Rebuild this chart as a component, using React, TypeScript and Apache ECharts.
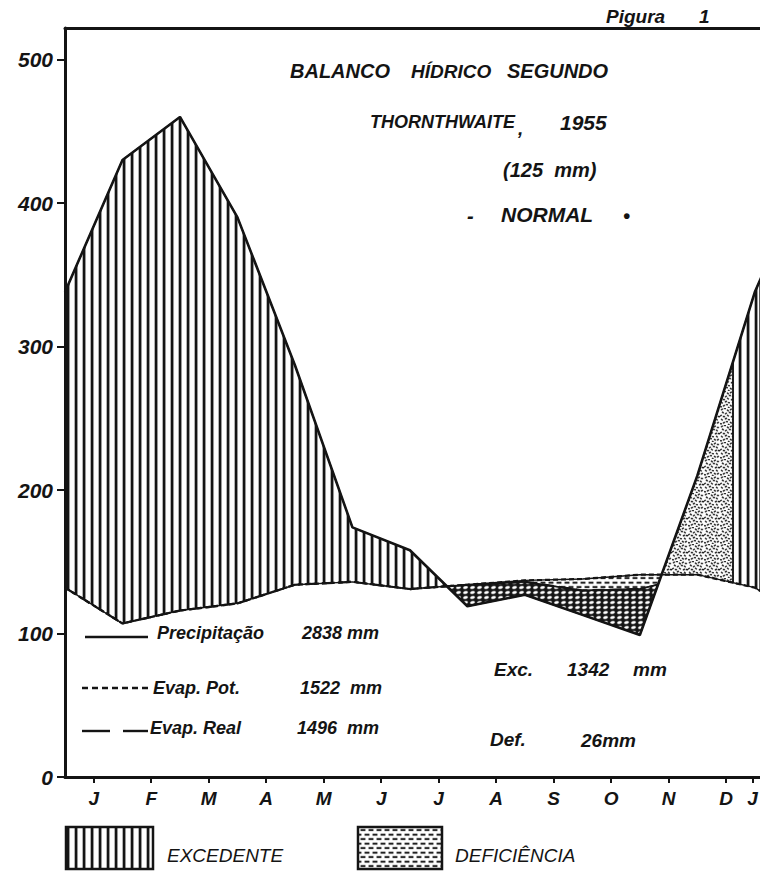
import React, { useEffect, useRef } from "react";
import * as echarts from "echarts";

// ---------------- data ----------------
const X_LABELS = ["J", "F", "M", "A", "M", "J", "J", "A", "S", "O", "N", "D", "J"];
const Y_TICKS = [0, 100, 200, 300, 400, 500];
// monthly values, Jan..Dec (mm)
const PRECIPITACAO = [430, 460, 390, 287, 174, 158, 119, 127, 113, 99, 210, 338];
const EVAP_POT = [107, 116, 121, 134, 136, 131, 134, 137, 138, 141, 141, 132];
const EVAP_REAL = [107, 116, 121, 134, 136, 131, 134, 136, 130, 131, 141, 132];
// month position (1 = mid Jan ... 12 = mid Dec) where soil recharge ends
const RECHARGE_END = 11.62;
// last month (Oct = 10) in which real evaporation falls below the potential one
const LAST_DRY_MONTH = 10;
const Y_MAX = 522;
const X_MAX = 12.09;

const INK = "#141414";
const FONT = '"Liberation Sans", Arial, sans-serif';

// positions: 0 = previous Dec, 1..12 = Jan..Dec, 13 = next Jan
const cyc = (m: number[]) => [m[11], ...m, m[0]];
const P = cyc(PRECIPITACAO);
const EP = cyc(EVAP_POT);
const ER = cyc(EVAP_REAL);
const XS = P.map((_, i) => i);

function at(vals: number[], x: number) {
  const i = Math.min(Math.max(Math.floor(x), 0), vals.length - 2);
  const t = x - i;
  return vals[i] * (1 - t) + vals[i + 1] * t;
}
function crossings(a: number[], b: number[]) {
  const out: number[] = [];
  for (let i = 0; i < a.length - 1; i++) {
    const d0 = a[i] - b[i];
    const d1 = a[i + 1] - b[i + 1];
    if (d0 * d1 < 0) out.push(i + d0 / (d0 - d1));
  }
  return out;
}

function buildRegions() {
  const cPE = crossings(P, EP);
  const cPR = crossings(P, ER);
  const cER = crossings(EP, ER);
  const rechargeStart = Math.max(...cPE.filter((c) => c < RECHARGE_END));
  let S = [0, X_MAX, RECHARGE_END, ...XS, ...cPE, ...cPR, ...cER].filter(
    (x) => x >= 0 && x <= X_MAX
  );
  S = Array.from(new Set(S.map((v) => Math.round(v * 1e6) / 1e6))).sort((a, b) => a - b);
  const p = (x: number) => at(P, x);
  const ep = (x: number) => at(EP, x);
  const er = (x: number) => at(ER, x);
  const polys = (
    upper: (x: number) => number,
    lower: (x: number) => number,
    test: (x: number) => boolean
  ) => {
    const runs: number[][] = [];
    let run: number[] | null = null;
    for (let k = 0; k < S.length - 1; k++) {
      const m = (S[k] + S[k + 1]) / 2;
      if (test(m) && upper(m) - lower(m) > 1e-6) {
        if (!run) run = [S[k]];
        run.push(S[k + 1]);
      } else if (run) {
        runs.push(run);
        run = null;
      }
    }
    if (run) runs.push(run);
    return runs.map((r) => [
      ...r.map((x) => [x, upper(x)]),
      ...r.slice().reverse().map((x) => [x, lower(x)]),
    ]);
  };
  return {
    excess: polys(p, ep, (m) => m < rechargeStart || m > RECHARGE_END),
    recharge: polys(p, ep, (m) => m > rechargeStart && m < RECHARGE_END),
    withdrawal: polys(er, p, () => true),
    deficit: polys(ep, (x) => Math.max(er(x), p(x)), () => true),
  };
}

function tile(w: number, h: number, draw: (c: CanvasRenderingContext2D) => void) {
  const s = 3;
  const c = document.createElement("canvas");
  c.width = w * s;
  c.height = h * s;
  const ctx = c.getContext("2d")!;
  ctx.scale(s, s);
  draw(ctx);
  return { image: c, repeat: "repeat", imageWidth: w, imageHeight: h } as any;
}

function makePatterns() {
  const stripes = tile(8, 8, (c) => {
    c.fillStyle = INK;
    c.fillRect(2.6, 0, 2.9, 8);
  });
  const grid = tile(7, 5, (c) => {
    c.fillStyle = INK;
    c.fillRect(0, 0, 7, 5);
    c.fillStyle = "#fff";
    c.beginPath();
    c.ellipse(3.5, 2.5, 2.3, 1.35, -0.25, 0, Math.PI * 2);
    c.fill();
  });
  const dashes = tile(8, 9, (c) => {
    c.fillStyle = INK;
    c.fillRect(0.5, 1.2, 5, 1.8);
    c.fillRect(4.5, 5.7, 3.5, 1.8);
    c.fillRect(0, 5.7, 1.5, 1.8);
  });
  const spots = [
    [1, 1], [4, 0], [7, 2], [10, 1], [13, 2], [2, 4], [5, 5], [9, 4], [12, 5],
    [0, 7], [3, 8], [7, 7], [11, 8], [14, 8], [1, 11], [5, 10], [8, 11],
    [12, 11], [3, 14], [6, 13], [10, 14], [13, 14], [0, 15], [8, 16],
  ];
  const stipple = tile(16, 17, (c) => {
    c.fillStyle = INK;
    spots.forEach(([x, y], i) => {
      c.save();
      c.translate(x + 0.9, y + 0.6);
      c.rotate((i % 3) * 0.6 - 0.5);
      c.fillRect(-1.1, -0.7, 2.2, 1.4);
      c.restore();
    });
  });
  return { stripes, grid, dashes, stipple };
}

export default function App() {
  const ref = useRef<HTMLDivElement>(null);
  useEffect(() => {
    if (!ref.current) return;
    document.body.style.margin = "0";
    const chart = echarts.init(ref.current, null, { renderer: "svg" });
    const pat = makePatterns();
    const regions = buildRegions();
    const fills: [number[][][], any][] = [
      [regions.excess, pat.stripes],
      [regions.recharge, pat.stipple],
      [regions.withdrawal, pat.grid],
      [regions.deficit, pat.dashes],
    ];
    const labelPos = X_LABELS.map((_, i) => Math.min(i + 0.5, X_MAX - 0.13));
    const pairs = (vals: number[]) => XS.map((x, i) => [x, vals[i]]);
    const erPairs = XS.map((x, i) => [x, i <= LAST_DRY_MONTH ? ER[i] : null]);

    const txt = (
      text: string,
      x: number,
      y: number,
      size: number,
      weight: string = "bold"
    ) => ({
      type: "text",
      x,
      y,
      silent: true,
      style: {
        text,
        fill: INK,
        fontSize: size,
        fontStyle: "italic",
        fontWeight: weight,
        fontFamily: FONT,
        align: "left",
        verticalAlign: "middle",
      },
    });
    const seg = (x1: number, y1: number, x2: number, y2: number, dash?: number[]) => ({
      type: "line",
      silent: true,
      shape: { x1, y1, x2, y2 },
      style: { stroke: INK, lineWidth: 2.4, lineDash: dash },
    });

    const axisText = {
      color: INK,
      fontSize: 19,
      fontStyle: "italic",
      fontWeight: "bold",
      fontFamily: FONT,
    };

    const option: any = {
      animation: false,
      backgroundColor: "#fff",
      grid: {
        left: 65,
        right: 0,
        top: 28,
        bottom: 94,
        containLabel: false,
        outerBoundsMode: "none",
      },
      xAxis: [
        {
          type: "value",
          min: 0,
          max: X_MAX,
          position: "bottom",
          axisLine: { show: true, onZero: false, lineStyle: { color: INK, width: 3 } },
          axisTick: {
            show: true,
            length: 6,
            customValues: labelPos,
            lineStyle: { color: INK, width: 2 },
          },
          axisLabel: {
            ...axisText,
            margin: 12,
            customValues: labelPos,
            formatter: (v: number) => {
              const i = labelPos.findIndex((p) => Math.abs(p - v) < 1e-3);
              return i >= 0 ? X_LABELS[i] : "";
            },
          },
          splitLine: { show: false },
        },
        {
          type: "value",
          min: 0,
          max: X_MAX,
          position: "top",
          axisLine: { show: true, onZero: false, lineStyle: { color: INK, width: 3 } },
          axisTick: { show: false },
          axisLabel: { show: false },
          splitLine: { show: false },
        },
      ],
      yAxis: {
        type: "value",
        min: 0,
        max: Y_MAX,
        axisLine: { show: true, onZero: false, lineStyle: { color: INK, width: 3 } },
        axisTick: {
          show: true,
          length: 8,
          customValues: Y_TICKS,
          lineStyle: { color: INK, width: 2 },
        },
        axisLabel: { ...axisText, fontSize: 21, margin: 12, customValues: Y_TICKS },
        splitLine: { show: false },
      },
      series: [
        {
          type: "custom",
          coordinateSystem: "cartesian2d",
          xAxisIndex: 0,
          silent: true,
          z: 1,
          data: [[0, 0]],
          renderItem: (_params: any, api: any) => {
            const children: any[] = [];
            fills.forEach(([list, fill]) => {
              list.forEach((poly) => {
                children.push({
                  type: "polygon",
                  shape: { points: poly.map((pt) => api.coord(pt)) },
                  style: { fill, stroke: INK, lineWidth: 1.4 },
                });
              });
            });
            return { type: "group", children };
          },
        },
        {
          name: "Evap. Pot.",
          type: "line",
          data: pairs(EP),
          symbol: "none",
          z: 3,
          lineStyle: { color: INK, width: 2.2, type: [5, 3] },
        },
        {
          name: "Evap. Real",
          type: "line",
          data: erPairs,
          symbol: "none",
          connectNulls: false,
          z: 3,
          lineStyle: { color: INK, width: 2.2, type: [12, 5] },
        },
        {
          name: "Precipitação",
          type: "line",
          data: pairs(P),
          symbol: "none",
          z: 4,
          lineStyle: { color: INK, width: 2.6 },
        },
      ],
      graphic: {
        elements: [
          txt("Pigura", 606, 16, 19),
          txt("1", 699, 16, 19),
          txt("BALANCO", 290, 71, 20),
          txt("HÍDRICO", 411, 71, 19),
          txt("SEGUNDO", 507, 71, 20),
          txt("THORNTHWAITE", 370, 122, 18),
          txt(",", 518, 128, 19),
          txt("1955", 560, 122, 21),
          txt("(125  mm)", 503, 170, 20),
          txt("-", 467, 216, 20),
          txt("NORMAL", 501, 214, 21),
          txt("•", 623, 216, 20),
          seg(85, 637, 148, 637),
          txt("Precipitação", 157, 633, 18),
          txt("2838 mm", 302, 633, 18),
          seg(82, 688, 151, 688, [6, 4]),
          txt("Evap. Pot.", 153, 688, 18),
          txt("1522  mm", 300, 688, 18),
          seg(82, 731, 110, 731),
          seg(123, 731, 148, 731),
          txt("Evap. Real", 150, 728, 18),
          txt("1496  mm", 297, 728, 18),
          txt("Exc.", 494, 669, 19),
          txt("1342", 567, 669, 19),
          txt("mm", 633, 669, 19),
          txt("Def.", 490, 739, 19),
          txt("26mm", 581, 740, 19),
          {
            type: "rect",
            silent: true,
            shape: { x: 66, y: 827, width: 87, height: 42 },
            style: { fill: pat.stripes, stroke: INK, lineWidth: 2.5 },
          },
          txt("EXCEDENTE", 167, 855, 19, "normal"),
          {
            type: "rect",
            silent: true,
            shape: { x: 358, y: 827, width: 84, height: 42 },
            style: { fill: pat.dashes, stroke: INK, lineWidth: 2.5 },
          },
          txt("DEFICIÊNCIA", 455, 855, 19, "normal"),
        ],
      },
    };
    chart.setOption(option);
    return () => chart.dispose();
  }, []);
  return (
    <div
      ref={ref}
      style={{ position: "absolute", left: 0, top: 0, width: 760, height: 871, background: "#fff" }}
    />
  );
}
